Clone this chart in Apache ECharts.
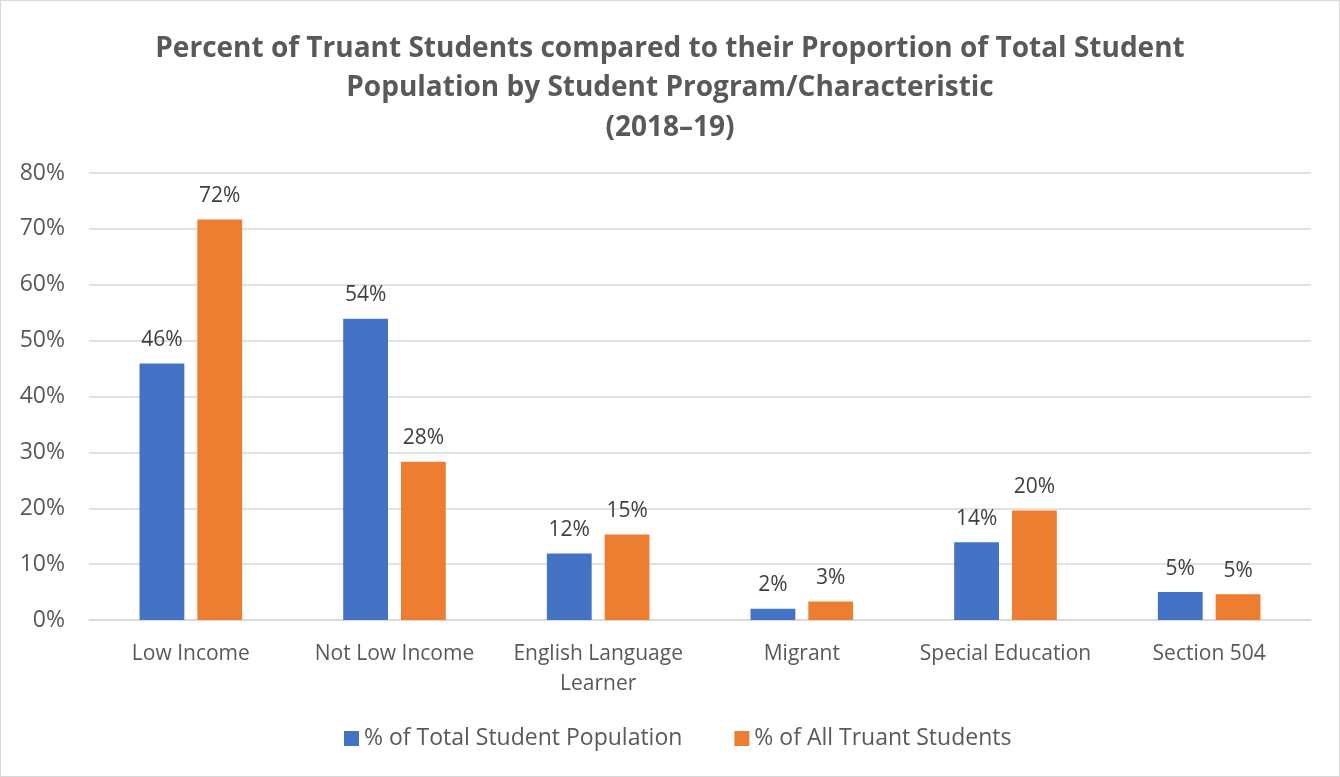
<!DOCTYPE html>
<html><head><meta charset="utf-8">
<script src="https://cdn.jsdelivr.net/npm/echarts@6/dist/echarts.min.js"></script>
<style>html,body{margin:0;padding:0;background:#fff}#c{width:1340px;height:777px;box-sizing:border-box;border:1px solid #d9d9d9}</style>
</head><body><div id="c"></div>
<script>
const categories = ['Low Income','Not Low Income','English Language\nLearner','Migrant','Special Education','Section 504'];
const seriesNames = ['% of Total Student Population','% of All Truant Students'];
const totalPopulation = [45.9, 53.9, 11.9, 2.0, 13.9, 5.0];
const truantStudents = [71.7, 28.3, 15.3, 3.3, 19.6, 4.6];
const yTicks = [0,10,20,30,40,50,60,70,80];

const FONT = '"Open Sans", "Noto Sans", sans-serif';
const chart = echarts.init(document.getElementById('c'));
const lbl = {show:true, position:'top', distance:13, color:'#404040', fontSize:21, fontFamily:FONT,
  formatter: p => Math.round(p.value) + '%'};
chart.setOption({
  animation:false,
  title:{text:'Percent of Truant Students compared to their Proportion of Total Student\nPopulation by Student Program/Characteristic\n(2018\u201319)',
    left:'center', top:23, textStyle:{fontFamily:FONT, fontSize:28, fontWeight:'bold', color:'#595959', lineHeight:39.5}},
  legend:{top:721, left:338, itemWidth:15, itemHeight:15, itemGap:52, icon:'rect',
    textStyle:{fontFamily:FONT, fontSize:23, color:'#595959'}, data:seriesNames},
  grid:{left:88, right:28, top:172, bottom:156},
  xAxis:{type:'category', data:categories,
    axisLine:{lineStyle:{color:'#d9d9d9', width:1.5}}, axisTick:{show:false},
    axisLabel:{fontFamily:FONT, fontSize:21, color:'#595959', margin:19, lineHeight:30, interval:0}},
  yAxis:{type:'value', min:yTicks[0], max:yTicks[yTicks.length-1], interval:10,
    axisLine:{show:false}, axisTick:{show:false},
    splitLine:{lineStyle:{color:'#d9d9d9', width:1.5}},
    axisLabel:{fontFamily:FONT, fontSize:23, color:'#595959', margin:24, formatter:v=>v+'%'}},
  series:[
    {name:seriesNames[0], type:'bar', data:totalPopulation, barWidth:'22%', barGap:'29%',
     itemStyle:{color:'#4472c4'}, label:lbl},
    {name:seriesNames[1], type:'bar', data:truantStudents, barWidth:'22%',
     itemStyle:{color:'#ed7d31'}, label:lbl}
  ]
});
</script></body></html>
